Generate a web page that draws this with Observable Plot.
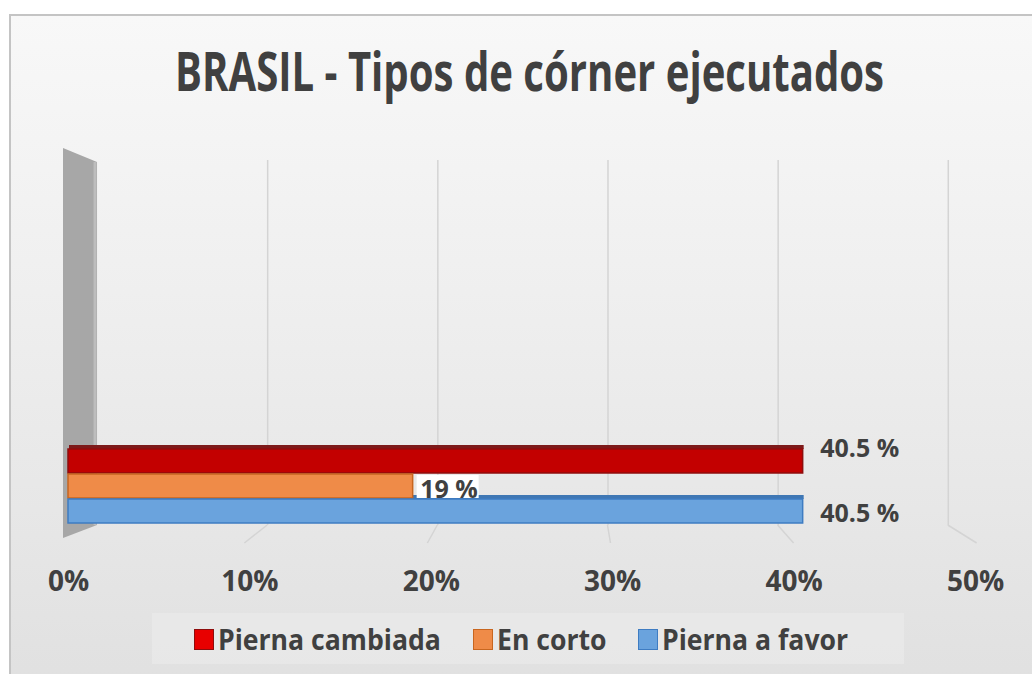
<!DOCTYPE html>
<html>
<head>
<meta charset="utf-8">
<script src="https://cdn.jsdelivr.net/npm/d3@7"></script>
<script src="https://cdn.jsdelivr.net/npm/@observablehq/plot@0.6"></script>
<style>
  html, body { margin: 0; padding: 0; width: 1032px; height: 674px; overflow: hidden; background: #ffffff; font-family: "Open Sans", sans-serif; }
  #card { position: absolute; left: 9px; top: 14px; width: 1040px; height: 680px; border-left: 2px solid #c4c4c4; border-top: 2px solid #c4c4c4; background: linear-gradient(#f8f8f8 0%, #eeeeee 45%, #e0e0e0 100%); }
  #title { position: absolute; left: 0; width: 1060px; top: 44px; text-align: center; white-space: nowrap; }
  #title span { display: inline-block; font-weight: bold; font-size: 53px; line-height: 1; color: #404040; transform-origin: 50% 50%; }
  #plot { position: absolute; left: 0; top: 140px; }
  #legendbox { position: absolute; left: 152px; top: 613px; width: 752px; height: 50px; background: rgba(236,236,236,0.55); border-top: 1px solid #e8e8e8; }
  #legend { position: absolute; left: 194px; top: 622px; display: flex; align-items: center; white-space: nowrap; }
  .item { display: flex; align-items: center; margin-right: 32px; }
  .swatch { width: 18px; height: 19px; border: 1.5px solid; margin-right: 4px; }
  .lab { display: inline-block; font-weight: bold; font-size: 28px; line-height: 34px; color: #404040; transform-origin: 0 50%; }
</style>
</head>
<body>
<div id="card"></div>
<div id="title"><span>BRASIL - Tipos de córner ejecutados</span></div>
<div id="plot"></div>
<div id="legendbox"></div>
<div id="legend"></div>
<script>
// ---- data ----
const categories = ["Pierna cambiada", "En corto", "Pierna a favor"];
const values = [40.5, 19, 40.5];
const valueLabels = ["40.5 %", "19 %", "40.5 %"];
const ticks = [0, 10, 20, 30, 40, 50];
const tickLabels = ["0%", "10%", "20%", "30%", "40%", "50%"];

// ---- styles ----
const fills = ["#c30000", "#ef8b48", "#6aa3dd"];
const strokes = ["#8e0d0d", "#c8661f", "#3e7cc2"];
const tops = ["#7d1a1a", "#b85c1c", "#3f77b4"];
const legendFills = ["#e80000", "#ef8b48", "#6aa3dd"];

const rows = categories.map((c, i) => ({
  cat: c, value: values[i], label: valueLabels[i],
  fill: fills[i], stroke: strokes[i], top: tops[i]
}));

// depth projection (back wall plane expressed in front-scale units)
const BACK_OFFSET = 1.6, BACK_RATIO = 0.938;
const back = t => BACK_OFFSET + t * BACK_RATIO;

const plot = Plot.plot({
  width: 1032,
  height: 480,
  marginTop: 20,
  marginBottom: 95,
  marginLeft: 0,
  marginRight: 0,
  x: { domain: [0, 50], range: [68, 975] },
  y: { domain: categories, range: [307, 384], padding: 0.04, axis: null },
  color: { type: "identity" },
  style: { background: "transparent", fontFamily: "'Open Sans', sans-serif", fontWeight: "bold", fontSize: "28px", color: "#404040", overflow: "visible" },
  marks: [
    Plot.ruleX(ticks.slice(1), { x: back, stroke: "#d4d4d4", strokeWidth: 1.5 }),
    // 3D top faces
    Plot.barX(rows, { filter: d => d.cat !== categories[1], x: "value", y: "cat", fill: "top", insetBottom: 20, dy: -4, dx: 1 }),
    // front faces
    Plot.barX(rows, { x: "value", y: "cat", fill: "fill", stroke: "stroke", strokeWidth: 1.5 }),
    // label background for the short bar
    Plot.barX(rows, { filter: d => d.cat === categories[1], x1: "value", x2: "value", y: "cat", fill: "white", insetLeft: 4, insetRight: -66, insetTop: 1, insetBottom: 0 }),
    Plot.text(rows, { filter: d => d.cat === categories[0], x: "value", y: "cat", text: "label", textAnchor: "start", dx: 17, dy: -13, fontSize: 25, fontWeight: "bold", fill: "#404040" }),
    Plot.text(rows, { filter: d => d.cat === categories[1], x: "value", y: "cat", text: "label", textAnchor: "start", dx: 7, dy: 3, fontSize: 25, fontWeight: "bold", fill: "#404040" }),
    Plot.text(rows, { filter: d => d.cat === categories[2], x: "value", y: "cat", text: "label", textAnchor: "start", dx: 17, dy: 2, fontSize: 25, fontWeight: "bold", fill: "#404040" }),
    Plot.axisX(ticks, { tickFormat: d => tickLabels[ticks.indexOf(d)], tickSize: 0, tickPadding: 46, fontSize: 28, fontWeight: "bold", fill: "#404040", label: null })
  ]
});
document.getElementById("plot").appendChild(plot);

// ---- 3D decorations derived from the plot's scales ----
const xs = plot.scale("x");
const svg = d3.select(plot);
const deco = svg.insert("g", "g");
const frameTop = 20, frameBottom = 480 - 95;
const wallL = xs.apply(0) - 5, wallR = xs.apply(back(0));
deco.append("polygon")
  .attr("points", [[wallL, frameTop - 12], [wallR, frameTop + 2], [wallR, frameBottom], [wallL, frameBottom + 13]].join(" "))
  .attr("fill", "#a7a7a7");
deco.append("line").attr("x1", wallR - 2).attr("x2", wallR - 2).attr("y1", frameTop + 2).attr("y2", frameBottom)
  .attr("stroke", "#bdbdbd").attr("stroke-width", 3);
const VP = 568, S = 1.076;
ticks.slice(1).forEach(t => {
  const bx = xs.apply(back(t));
  const fx = VP + (bx - VP) * S;
  deco.append("line").attr("x1", bx).attr("y1", frameBottom).attr("x2", fx).attr("y2", frameBottom + 18)
    .attr("stroke", "#d4d4d4").attr("stroke-width", 1.5);
});

// ---- legend ----
const legend = d3.select("#legend");
categories.forEach((c, i) => {
  const it = legend.append("div").attr("class", "item");
  it.append("div").attr("class", "swatch").style("background", legendFills[i]).style("border-color", strokes[i]);
  it.append("span").attr("class", "lab").text(c);
});

// narrow the wide fallback font to a Calibri-like width
const NARROW = 0.95;
document.querySelectorAll(".lab").forEach(el => {
  const w = el.getBoundingClientRect().width;
  el.style.transform = `scaleX(${NARROW})`;
  el.style.marginRight = `${-(1 - NARROW) * w}px`;
});
const t = document.querySelector("#title span");
const tw = t.getBoundingClientRect().width;
t.style.transform = `scaleX(${709 / tw})`;
</script>
</body>
</html>
